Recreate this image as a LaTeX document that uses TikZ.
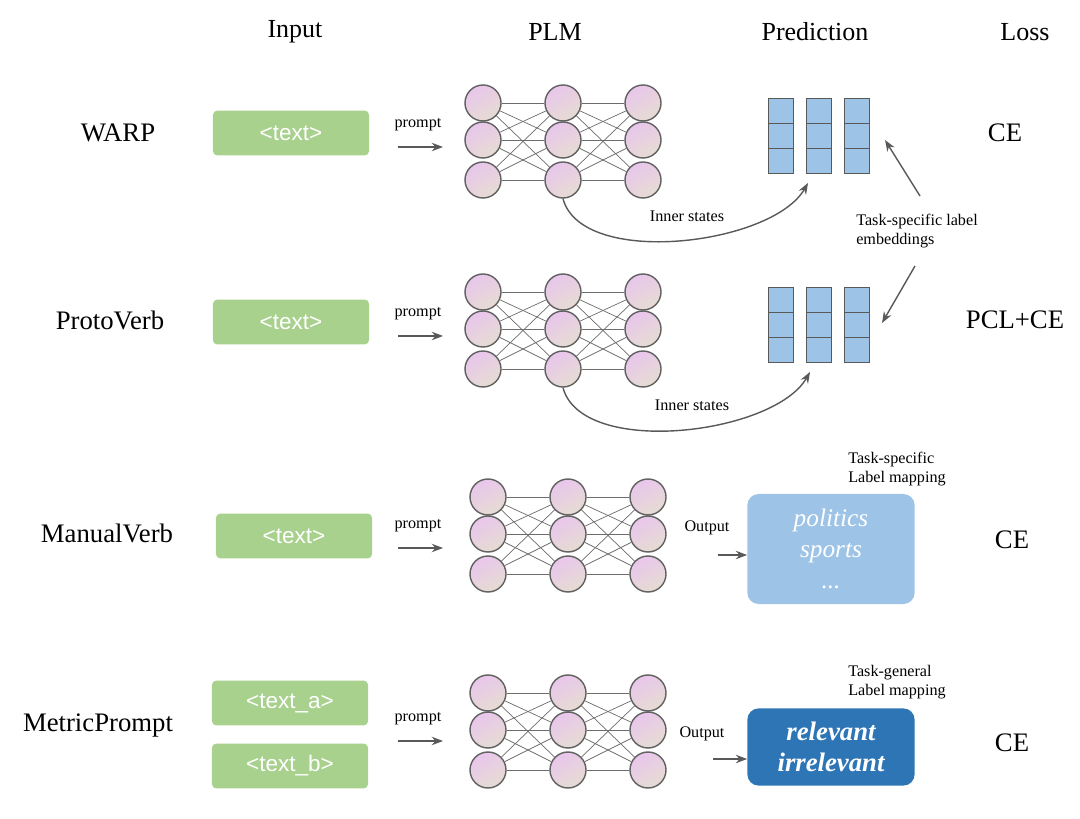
\documentclass[tikz,border=0pt]{standalone}
\usepackage{fontspec}
\setmainfont{Liberation Serif}
\newfontfamily\sansf{Liberation Sans}
\usetikzlibrary{arrows.meta}
\definecolor{boxgreen}{HTML}{A9D18E}
\definecolor{cellblue}{HTML}{9DC3E6}
\definecolor{deepblue}{HTML}{2E75B6}
\definecolor{linegray}{HTML}{595959}
\definecolor{nodepink}{HTML}{E8C6EC}
\definecolor{nodebeige}{HTML}{E6DCD2}
\tikzset{
  head/.style={font=\fontsize{18.5}{22}\selectfont},
  row/.style={font=\fontsize{19}{22}\selectfont},
  small/.style={font=\fontsize{11.5}{13.5}\selectfont},
  inbox/.style={fill=boxgreen,rounded corners=3pt,minimum width=3.9cm,minimum height=1.12cm,text=white,font=\sansf\fontsize{16}{18}\selectfont},
  neuron/.style={circle,draw=gray!75!black,line width=1pt,minimum size=0.9cm,inner sep=0pt,top color=nodepink,bottom color=nodebeige,shading angle=30},
  link/.style={draw=gray!85!black,line width=0.5pt},
  arr/.style={-{Stealth[length=8pt,width=6pt]},draw=linegray,line width=1pt},
  cell/.style={draw=gray!70!black,fill=cellblue,minimum width=0.63cm,minimum height=0.62cm,inner sep=0pt}
}
\begin{document}
\begin{tikzpicture}[x=0.025cm,y=-0.025cm]
\useasboundingbox (0,0) rectangle (1080,819);

% headings
\node[head] (hin) at (295,32) {Input};
\node[head] (hplm) at (555,32) {PLM};
\node[head] (hpred) at (815,32) {Prediction};
\node[head] (hloss) at (1025,32) {Loss};

% row labels and losses
\node[row] (warp) at (118,133) {WARP};
\node[row] (proto) at (110,320) {ProtoVerb};
\node[row] (manual) at (107,533) {ManualVerb};
\node[row] (metric) at (98,725) {MetricPrompt};
\node[row] (l1) at (1005,133) {CE};
\node[row] (l2) at (1015,320) {PCL+CE};
\node[row] (l3) at (1012,540) {CE};
\node[row] (l4) at (1012,743) {CE};

% inputs
\node[inbox] (t1) at (291,133) {<text>};
\node[inbox] (t2) at (291,322) {<text>};
\node[inbox] (t3) at (294,536) {<text>};
\node[inbox] (t4a) at (290,703) {<text\_a>};
\node[inbox] (t4b) at (290,766) {<text\_b>};

% prompt arrows
\foreach \r/\x/\y in {1/420/147,2/420/336,3/420/548,4/420/741}{
  \node[small,anchor=south] (p\r) at (\x-2,\y-11) {prompt};
  \coordinate (ps\r) at (\x-22,\y);
  \coordinate (pe\r) at (\x+23,\y);
  \draw[arr] (ps\r) -- (pe\r);
}

% networks
\foreach \r/\xa/\ya in {1/483/103,2/483/292,3/488/497,4/488/693}{
  \foreach \c in {1,2,3}{
    \foreach \i/\dy in {1/0,2/37,3/77}{
      \node[neuron] (n\r-\c-\i) at (\xa+80*\c-80,\ya+\dy) {};
    }
  }
  \foreach \i in {1,2,3}{
    \foreach \j in {1,2,3}{
      \draw[link] (n\r-1-\i) -- (n\r-2-\j);
      \draw[link] (n\r-2-\i) -- (n\r-3-\j);
    }
  }
}

% prediction blocks
\foreach \r/\ya in {1/111,2/300}{
  \foreach \c/\x in {1/781,2/819,3/857}{
    \foreach \k in {0,1,2}{
      \node[cell] (b\r-\c-\k) at (\x,\ya+24.7*\k) {};
    }
  }
}

% inner states
\coordinate (is1) at (808,183);
\coordinate (is2) at (810,372);
\draw[arr] (n1-2-3.south) to[out=-75,in=-120,looseness=0.75] (is1);
\draw[arr] (n2-2-3.south) to[out=-75,in=-120,looseness=0.75] (is2);
\node[small] (s1) at (687,216) {Inner states};
\node[small] (s2) at (692,405) {Inner states};

% label embeddings
\node[small,align=left] (emb) at (917,231) {Task-specific label\\embeddings};
\coordinate (e1) at (885,140);
\coordinate (e2) at (882,323);
\coordinate (es1) at (920,196);
\coordinate (es2) at (915,266);
\draw[arr] (es1) -- (e1);
\draw[arr] (es2) -- (e2);

% label mappings
\node[small,align=left] (m3) at (897,469) {Task-specific\\Label mapping};
\node[small,align=left] (m4) at (897,682) {Task-general\\Label mapping};
\node[fill=cellblue,rounded corners=8pt,minimum width=4.18cm,minimum height=2.75cm,text=white,font=\itshape\fontsize{18}{21}\selectfont,align=center] (v3) at (831,549) {politics\\[1pt]sports\\[1pt]...};
\node[fill=deepblue,rounded corners=8pt,minimum width=4.18cm,minimum height=1.93cm,text=white,font=\bfseries\itshape\fontsize{19}{22}\selectfont,align=center] (v4) at (831,747) {relevant\\irrelevant};

% outputs
\node[small] (o3) at (707,528) {Output};
\node[small] (o4) at (702,734) {Output};
\coordinate (os3) at (718,555);
\coordinate (os4) at (713,759);
\draw[arr] (os3) -- (v3.west |- os3);
\draw[arr] (os4) -- (v4.west |- os4);
\end{tikzpicture}
\end{document}
